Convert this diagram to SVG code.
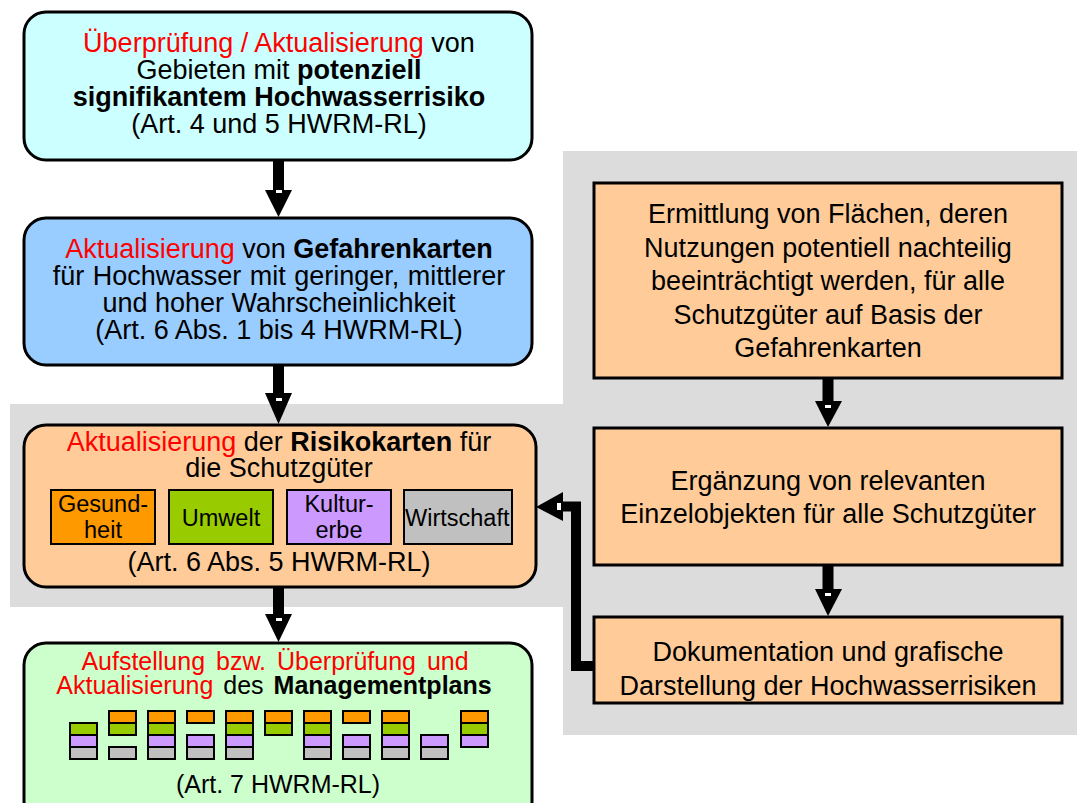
<svg xmlns="http://www.w3.org/2000/svg" width="1077" height="803" viewBox="0 0 1077 803">
<defs>
<style>
text{font-family:"Liberation Sans",Arial,sans-serif;fill:#000}
.t{font-size:27px}
.s{font-size:23.5px}
.g{font-size:25px}
.b{font-weight:bold}
.r{fill:#ff0000}
.box{stroke:#000;stroke-width:3}
.sub{stroke:#000;stroke-width:2}
.cell{stroke:#000;stroke-width:2}
.o{fill:#ff9900}.gr{fill:#99cc00}.p{fill:#cc99ff}.gy{fill:#c0c0c0}
.arr{fill:#000}
.mk{fill:#fff}
</style>
<clipPath id="cw"><rect x="404" y="490" width="107" height="54"/></clipPath>
</defs>
<rect width="1077" height="803" fill="#fff"/>
<path d="M10,404 H563 V151 H1077 V735 H563 V607 H10 Z" fill="#dcdcdc"/>

<g id="n1">
<rect class="box" x="24" y="12" width="508" height="148" rx="22" fill="#ccffff"/>
<text class="t" x="279" y="52" text-anchor="middle"><tspan class="r">Überprüfung / Aktualisierung</tspan> von</text>
<text class="t" x="279" y="79" text-anchor="middle">Gebieten mit <tspan class="b">potenziell</tspan></text>
<text class="t b" x="279" y="106" text-anchor="middle">signifikantem Hochwasserrisiko</text>
<text class="t" x="279" y="133" text-anchor="middle">(Art. 4 und 5 HWRM-RL)</text>
</g>

<g id="n2">
<rect class="box" x="24" y="218" width="508" height="147" rx="22" fill="#99ccff"/>
<text class="t" x="279" y="258" text-anchor="middle"><tspan class="r">Aktualisierung</tspan> von <tspan class="b">Gefahrenkarten</tspan></text>
<text class="t" x="279" y="285" text-anchor="middle" word-spacing="1">für Hochwasser mit geringer, mittlerer</text>
<text class="t" x="279" y="312" text-anchor="middle">und hoher Wahrscheinlichkeit</text>
<text class="t" x="279" y="339" text-anchor="middle">(Art. 6 Abs. 1 bis 4 HWRM-RL)</text>
</g>

<g id="n3">
<rect class="box" x="24" y="425" width="512" height="162" rx="22" fill="#ffcc99"/>
<text class="t" x="279" y="451" text-anchor="middle"><tspan class="r">Aktualisierung</tspan> der <tspan class="b">Risikokarten</tspan> für</text>
<text class="t" x="279" y="477" text-anchor="middle">die Schutzgüter</text>
<g id="n3a">
<rect class="sub o" x="51" y="490" width="104" height="54"/>
<text class="s" x="103" y="512" text-anchor="middle">Gesund-</text>
<text class="s" x="103" y="538" text-anchor="middle">heit</text>
</g>
<g id="n3b">
<rect class="sub gr" x="169" y="490" width="104" height="54"/>
<text class="s" x="221" y="526" text-anchor="middle">Umwelt</text>
</g>
<g id="n3c">
<rect class="sub p" x="287" y="490" width="104" height="54"/>
<text class="s" x="339" y="512" text-anchor="middle">Kultur-</text>
<text class="s" x="339" y="538" text-anchor="middle">erbe</text>
</g>
<g id="n3d">
<rect class="sub gy" x="404" y="490" width="108" height="54"/>
<text class="s" x="405" y="526" clip-path="url(#cw)">Wirtschaft</text>
</g>
<text class="t" x="279" y="571" text-anchor="middle">(Art. 6 Abs. 5 HWRM-RL)</text>
</g>

<g id="n4">
<rect class="box" x="24" y="643" width="508" height="180" rx="22" fill="#ccffcc"/>
<text class="g r" x="275" y="670" text-anchor="middle" word-spacing="4">Aufstellung bzw. Überprüfung und</text>
<text class="g" x="274" y="694" text-anchor="middle" word-spacing="3"><tspan class="r">Aktualisierung</tspan> des <tspan class="b">Managementplans</tspan></text>
<g id="chart">
<rect class="cell gr" x="70" y="723" width="27" height="12"/><rect class="cell p" x="70" y="735" width="27" height="12"/><rect class="cell gy" x="70" y="747" width="27" height="12"/>
<rect class="cell o" x="109" y="711" width="27" height="12"/><rect class="cell gr" x="109" y="723" width="27" height="12"/><rect class="cell gy" x="109" y="747" width="27" height="12"/>
<rect class="cell o" x="148" y="711" width="27" height="12"/><rect class="cell gr" x="148" y="723" width="27" height="12"/><rect class="cell p" x="148" y="735" width="27" height="12"/><rect class="cell gy" x="148" y="747" width="27" height="12"/>
<rect class="cell o" x="187" y="711" width="27" height="12"/><rect class="cell p" x="187" y="735" width="27" height="12"/><rect class="cell gy" x="187" y="747" width="27" height="12"/>
<rect class="cell o" x="226" y="711" width="27" height="12"/><rect class="cell gr" x="226" y="723" width="27" height="12"/><rect class="cell p" x="226" y="735" width="27" height="12"/><rect class="cell gy" x="226" y="747" width="27" height="12"/>
<rect class="cell o" x="265" y="711" width="27" height="12"/><rect class="cell gr" x="265" y="723" width="27" height="12"/>
<rect class="cell o" x="304" y="711" width="27" height="12"/><rect class="cell gr" x="304" y="723" width="27" height="12"/><rect class="cell p" x="304" y="735" width="27" height="12"/><rect class="cell gy" x="304" y="747" width="27" height="12"/>
<rect class="cell o" x="343" y="711" width="27" height="12"/><rect class="cell p" x="343" y="735" width="27" height="12"/><rect class="cell gy" x="343" y="747" width="27" height="12"/>
<rect class="cell o" x="382" y="711" width="27" height="12"/><rect class="cell gr" x="382" y="723" width="27" height="12"/><rect class="cell p" x="382" y="735" width="27" height="12"/><rect class="cell gy" x="382" y="747" width="27" height="12"/>
<rect class="cell p" x="421" y="735" width="27" height="12"/><rect class="cell gy" x="421" y="747" width="27" height="12"/>
<rect class="cell o" x="461" y="711" width="27" height="12"/><rect class="cell gr" x="461" y="723" width="27" height="12"/><rect class="cell p" x="461" y="735" width="27" height="12"/>
</g>
<text class="g" x="278" y="793" text-anchor="middle">(Art. 7 HWRM-RL)</text>
</g>

<g id="r1">
<rect class="box" x="594" y="183" width="468" height="195" fill="#ffcc99"/>
<text class="t" x="828" y="223" text-anchor="middle">Ermittlung von Flächen, deren</text>
<text class="t" x="828" y="257" text-anchor="middle">Nutzungen potentiell nachteilig</text>
<text class="t" x="828" y="290" text-anchor="middle">beeinträchtigt werden, für alle</text>
<text class="t" x="828" y="324" text-anchor="middle">Schutzgüter auf Basis der</text>
<text class="t" x="828" y="357" text-anchor="middle">Gefahrenkarten</text>
</g>

<g id="r2">
<rect class="box" x="594" y="428" width="468" height="137" fill="#ffcc99"/>
<text class="t" x="828" y="490" text-anchor="middle">Ergänzung von relevanten</text>
<text class="t" x="828" y="523" text-anchor="middle">Einzelobjekten für alle Schutzgüter</text>
</g>

<g id="r3">
<rect class="box" x="594" y="617" width="468" height="86" fill="#ffcc99"/>
<text class="t" x="828" y="661" text-anchor="middle">Dokumentation und grafische</text>
<text class="t" x="828" y="695" text-anchor="middle">Darstellung der Hochwasserrisiken</text>
</g>

<g id="connectors">
<rect class="arr" x="273" y="160" width="11" height="31"/>
<polygon class="arr" points="265,190 292,190 278.5,217"/>
<rect class="mk" x="276" y="190" width="6" height="3"/>

<rect class="arr" x="273" y="365" width="11" height="29"/>
<polygon class="arr" points="265,393 292,393 278.5,424"/>
<rect class="mk" x="276" y="398" width="6" height="3"/>

<rect class="arr" x="273" y="587" width="11" height="28"/>
<polygon class="arr" points="265,614 292,614 278.5,642"/>
<rect class="mk" x="276" y="618" width="6" height="3"/>

<rect class="arr" x="822.5" y="378" width="11" height="24"/>
<polygon class="arr" points="815,401 842,401 828,427"/>
<rect class="mk" x="825" y="405" width="6" height="3"/>

<rect class="arr" x="822.5" y="565" width="11" height="25"/>
<polygon class="arr" points="815,589 842,589 828,616"/>
<rect class="mk" x="825" y="593" width="6" height="3"/>

<path d="M594,666 H576 V506.5 H562" fill="none" stroke="#000" stroke-width="10" stroke-linejoin="miter"/>
<polygon class="arr" points="563,492 563,521 536,507"/>
<rect class="mk" x="557" y="503" width="4" height="7"/>
</g>
</svg>
